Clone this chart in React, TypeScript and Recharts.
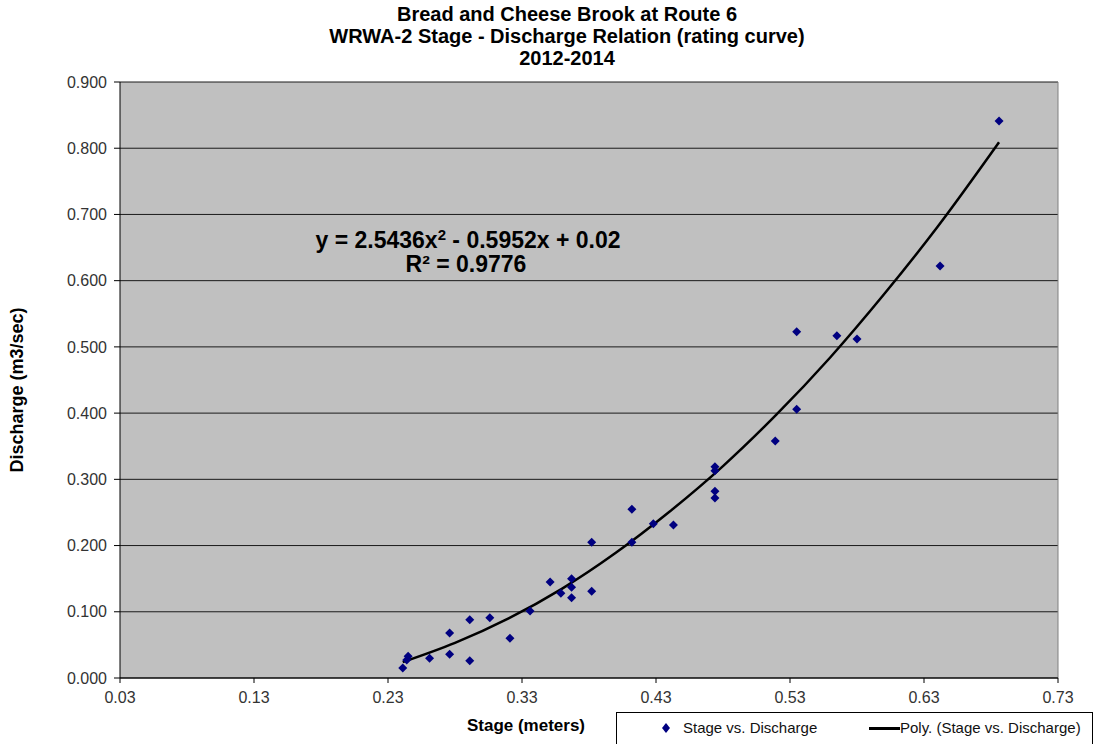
import { ComposedChart, Scatter, Line, XAxis, YAxis, CartesianGrid, ReferenceLine } from "recharts";

// measured stage (m) and discharge (m3/sec)
const stage = [
  0.241, 0.244, 0.245, 0.261, 0.276, 0.276, 0.291, 0.291, 0.306, 0.321, 0.336,
  0.351, 0.359, 0.367, 0.367, 0.367, 0.382, 0.382, 0.412, 0.412, 0.428, 0.443,
  0.474, 0.474, 0.474, 0.474, 0.519, 0.535, 0.535, 0.565, 0.580, 0.642, 0.686,
];
const discharge = [
  0.015, 0.027, 0.033, 0.030, 0.036, 0.068, 0.088, 0.026, 0.091, 0.060, 0.101,
  0.145, 0.128, 0.150, 0.137, 0.121, 0.205, 0.131, 0.255, 0.205, 0.233, 0.231,
  0.319, 0.313, 0.282, 0.272, 0.358, 0.406, 0.523, 0.517, 0.512, 0.622, 0.841,
];

// trendline
const curveStage = [0.241, 0.28, 0.32, 0.36, 0.40, 0.44, 0.48, 0.52, 0.56, 0.60, 0.64, 0.686];
const curveDischarge = [0.024, 0.053, 0.090, 0.135, 0.189, 0.251, 0.320, 0.398, 0.484, 0.579, 0.681, 0.809];

const xTicks = [0.03, 0.13, 0.23, 0.33, 0.43, 0.53, 0.63, 0.73];
const yTicks = [0, 0.1, 0.2, 0.3, 0.4, 0.5, 0.6, 0.7, 0.8, 0.9];

const points = stage.map((x, i) => ({ x, y: discharge[i] }));
const curve = curveStage.map((x, i) => ({ x, y: curveDischarge[i] }));

const font = "'Liberation Sans', Arial, sans-serif";

const Diamond = (props: any) => {
  const { cx, cy } = props;
  const r = 4.5;
  return (
    <polygon
      points={`${cx},${cy - r} ${cx + r},${cy} ${cx},${cy + r} ${cx - r},${cy}`}
      fill="#000080"
    />
  );
};

const LegendBox = () => (
  <div
    style={{
      position: "absolute",
      left: 616,
      top: 712,
      width: 477,
      height: 32,
      border: "1px solid #000",
      borderBottom: "none",
      boxSizing: "border-box",
      background: "#fff",
      fontFamily: font,
      fontSize: 15,
      color: "#111",
    }}
  >
    <svg width={10} height={10} style={{ position: "absolute", left: 44, top: 10 }}>
      <polygon points="5,0 9,5 5,10 1,5" fill="#000080" />
    </svg>
    <span style={{ position: "absolute", left: 66, top: 6 }}>Stage vs. Discharge</span>
    <span style={{ position: "absolute", left: 252, top: 14, width: 31, height: 3, background: "#000" }} />
    <span style={{ position: "absolute", left: 283, top: 6 }}>Poly. (Stage vs. Discharge)</span>
  </div>
);

const App = () => {
  return (
    <div style={{ position: "absolute", left: 0, top: 0, width: 1100, height: 744, background: "#fff" }}>
      <ComposedChart
        width={1100}
        height={744}
        margin={{ top: 82, right: 42, bottom: 36, left: 60 }}
        style={{ fontFamily: font }}
      >
        <CartesianGrid vertical={false} stroke="#1a1a1a" fill="#c0c0c0" fillOpacity={1} />
        <XAxis
          type="number"
          dataKey="x"
          domain={[0.03, 0.73]}
          ticks={xTicks}
          allowDataOverflow
          height={30}
          tickFormatter={(v: number) => v.toFixed(2)}
          tick={{ fill: "#333", fontSize: 16 }}
          stroke="#000"
          tickSize={5}
          tickMargin={9}
        />
        <YAxis
          type="number"
          domain={[0, 0.9]}
          ticks={yTicks}
          allowDataOverflow
          width={60}
          tickFormatter={(v: number) => v.toFixed(3)}
          tick={{ fill: "#333", fontSize: 16 }}
          stroke="#000"
          tickSize={6}
          tickMargin={7}
        />
        <ReferenceLine x={0.73} stroke="#808080" />
        <Line
          data={curve}
          dataKey="y"
          type="monotone"
          stroke="#000"
          strokeWidth={2.5}
          dot={false}
          activeDot={false}
          isAnimationActive={false}
        />
        <Scatter data={points} dataKey="y" shape={<Diamond />} isAnimationActive={false} />
        <text x={567} y={21} textAnchor="middle" fontSize={20} fontWeight="bold" fill="#000">
          Bread and Cheese Brook at Route 6
        </text>
        <text x={567} y={43} textAnchor="middle" fontSize={20} fontWeight="bold" fill="#000">
          WRWA-2 Stage - Discharge Relation (rating curve)
        </text>
        <text x={567} y={65} textAnchor="middle" fontSize={20} fontWeight="bold" fill="#000">
          2012-2014
        </text>
        <text x={468} y={248} textAnchor="middle" fontSize={23} fontWeight="bold" fill="#000">
          y = 2.5436x<tspan dy={-8} fontSize={15}>2</tspan>
          <tspan dy={8}> - 0.5952x + 0.02</tspan>
        </text>
        <text x={466} y={272} textAnchor="middle" fontSize={23} fontWeight="bold" fill="#000">
          R² = 0.9776
        </text>
        <text
          x={23}
          y={390}
          transform="rotate(-90 23 390)"
          textAnchor="middle"
          fontSize={18}
          fontWeight="bold"
          fill="#000"
        >
          Discharge (m3/sec)
        </text>
        <text x={526} y={731} textAnchor="middle" fontSize={17} fontWeight="bold" fill="#000">
          Stage (meters)
        </text>
      </ComposedChart>
      <LegendBox />
    </div>
  );
};

export default App;
